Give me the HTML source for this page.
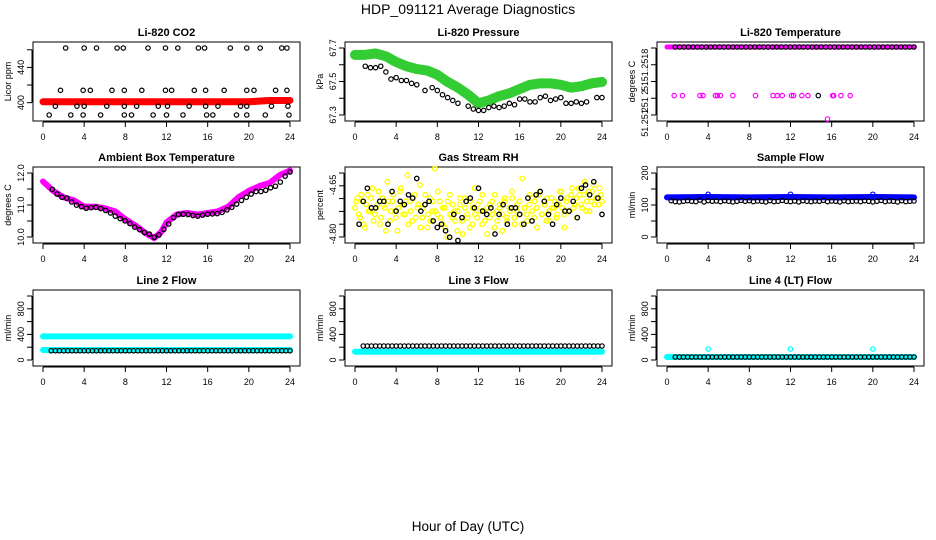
<!DOCTYPE html>
<html><head><meta charset="utf-8">
<style>
html,body{margin:0;padding:0;background:#fff;}
svg{display:block;font-family:"Liberation Sans",sans-serif;}
</style></head>
<body>
<svg id="c" width="936" height="540" viewBox="0 0 936 540">
<text x="468" y="14" text-anchor="middle" font-size="14">HDP_091121  Average Diagnostics</text>
<text x="468" y="531" text-anchor="middle" font-size="13.5">Hour of Day (UTC)</text>
</svg>
<script>
// ---------- data ----------
const xTicks = [0,4,8,12,16,20,24];
// CO2
const co2TopH = [2.2,4.0,5.2,7.2,7.8,10.2,11.9,13.1,15.1,15.7,18.2,19.8,21.1,23.2,23.7];
const co2MidH = [1.7,3.9,4.6,6.7,7.9,9.6,11.9,12.5,14.7,15.8,17.6,19.8,20.5,22.6,23.7];
const co2LowH = [1.2,3.3,4.0,6.2,7.9,9.1,11.2,12.1,14.2,15.8,17.0,19.2,19.8,22.2,23.8];
const co2BotH = [0.6,2.7,3.9,5.6,7.9,8.6,10.7,12.0,13.6,15.9,16.5,18.8,19.8,21.6,23.9];
const co2Levels = [462,414,396,386];
const co2RedH = [0,4,8,12,16,20,22,24];
const co2RedV = [401,401,401,401,401,401,402.5,402.5];
// Pressure
const presGreenH = [0,1,2,3,4,5,6,7,8,9,10,11,12,13,14,15,16,17,18,19,20,21,22,23,24];
const presGreenV = [67.68,67.68,67.69,67.67,67.63,67.60,67.58,67.57,67.54,67.49,67.45,67.40,67.34,67.36,67.39,67.41,67.44,67.47,67.48,67.48,67.47,67.45,67.46,67.48,67.49];
const presBlackH = [1,1.5,2,2.5,3,3.5,4,4.5,5,5.5,6,6.8,7.5,8,8.5,9,9.5,10,11,11.5,12,12.5,13,13.5,14,14.5,15,15.5,16,16.5,17,17.5,18,18.5,19,19.5,20,20.5,21,21.5,22,22.5,23.5,24];
const presBlackV = [67.60,67.59,67.59,67.60,67.56,67.51,67.52,67.50,67.50,67.48,67.47,67.43,67.45,67.43,67.40,67.38,67.36,67.34,67.32,67.30,67.29,67.29,67.31,67.32,67.31,67.32,67.34,67.33,67.37,67.37,67.35,67.35,67.38,67.39,67.36,67.37,67.38,67.34,67.34,67.35,67.34,67.35,67.38,67.38];
// Li-820 temperature (tick index units)
const tempMidH = [0.7,1.5,3.2,3.5,4.7,4.9,5.2,6.4,8.6,10.3,10.7,11.2,12.1,12.3,13.1,13.7,16.1,16.2,16.9,17.8];
const tempMidV = 1.3;
const tempLowH = [15.6];
const tempBlackMidH = [14.7];
// Ambient box temperature
const boxH = [0,1,2,3,4,5,6,7,8,9,10,10.8,11.5,12,13,14,15,16,17,18,19,20,21,22,23,24];
const boxV = [11.7,11.4,11.2,11.1,10.9,10.9,10.85,10.75,10.5,10.3,10.05,9.9,10.1,10.4,10.65,10.7,10.65,10.7,10.75,10.9,11.2,11.4,11.55,11.65,11.9,12.05];
// Gas stream RH
const rhYellowA = [-4.72,-4.69,-4.75,-4.70,-4.78,-4.68,-4.73,-4.66,-4.74,-4.71,-4.77,-4.69,-4.72,-4.64,-4.76,-4.70,-4.73,-4.79,-4.67,-4.71,-4.74,-4.62,-4.70,-4.76,-4.68,-4.72,-4.65,-4.75,-4.71,-4.78,-4.69,-4.73,-4.60,-4.74,-4.70,-4.77,-4.72,-4.81,-4.68,-4.75,-4.73,-4.79,-4.71,-4.76,-4.69,-4.74,-4.78,-4.72,-4.66,-4.75,-4.70,-4.77,-4.73,-4.80,-4.71,-4.74,-4.68,-4.76,-4.72,-4.79,-4.70,-4.75,-4.73,-4.69,-4.77,-4.71,-4.74,-4.63,-4.72,-4.76,-4.68,-4.73,-4.70,-4.78,-4.67,-4.74,-4.71,-4.69,-4.76,-4.72,-4.70,-4.74,-4.67,-4.72,-4.78,-4.69,-4.73,-4.66,-4.71,-4.75,-4.68,-4.72,-4.64,-4.70,-4.73,-4.67,-4.71,-4.69,-4.66,-4.70];
const rhYellowB = [-4.70,-4.74,-4.68,-4.77,-4.71,-4.73,-4.69,-4.76,-4.72,-4.67,-4.75,-4.71,-4.79,-4.70,-4.73,-4.68,-4.75,-4.72,-4.66,-4.74,-4.70,-4.77,-4.73,-4.69,-4.75,-4.71,-4.78,-4.72,-4.68,-4.74,-4.76,-4.70,-4.73,-4.67,-4.75,-4.72,-4.78,-4.70,-4.74,-4.71,-4.76,-4.73,-4.69,-4.80,-4.72,-4.75,-4.70,-4.77,-4.74,-4.71,-4.73,-4.68,-4.76,-4.72,-4.75,-4.70,-4.78,-4.73,-4.71,-4.74,-4.69,-4.76,-4.72,-4.67,-4.75,-4.73,-4.70,-4.77,-4.72,-4.74,-4.71,-4.69,-4.75,-4.72,-4.68,-4.74,-4.70,-4.76,-4.73,-4.69,-4.72,-4.75,-4.71,-4.67,-4.74,-4.70,-4.73,-4.68,-4.72,-4.69,-4.66,-4.71,-4.68,-4.73,-4.67,-4.70,-4.65,-4.69,-4.71,-4.68];
const rhBlack = [-4.77,-4.70,-4.66,-4.72,-4.72,-4.70,-4.70,-4.77,-4.67,-4.73,-4.70,-4.71,-4.68,-4.69,-4.63,-4.73,-4.71,-4.70,-4.76,-4.78,-4.77,-4.79,-4.81,-4.74,-4.82,-4.75,-4.70,-4.69,-4.72,-4.66,-4.73,-4.74,-4.72,-4.80,-4.74,-4.71,-4.77,-4.72,-4.72,-4.74,-4.77,-4.69,-4.76,-4.68,-4.67,-4.70,-4.74,-4.77,-4.71,-4.69,-4.73,-4.73,-4.70,-4.75,-4.66,-4.65,-4.68,-4.64,-4.69,-4.74];
// Flows
const flowLineH = [0,4,8,12,16,20,24];
const sampleBlue = [117,118,117,118,117,118,117];
const sampleBlack = [106,103,102,104,106,104,103,108,102,106,104,105,103,106,104,102,104,107,104,106,103,105,104,102,106,103,104,107,104,103,105,102,106,104,103,105,104,107,103,105,104,102,106,103,104,105,103,106,104,102,104,107,103,105,104,102,106,103,104,105];
const sampleSpikeH = [4,12,20];
const sampleSpikeV = [127,127,127];
const line2CyanHi = [330,330,330,330,330,330,330];
const line2CyanLo = [112,112,112,112,112,112,112];
const line2Black = 100;
const line3Cyan = [85,85,85,85,85,85,85];
const line3Black = 176;
const line4Cyan = [0,0,0,0,0,0,0];
const line4SpikeH = [4,12,20];
const line4SpikeV = [128,128,128];
const line4Black = 0;

// ---------- helpers ----------
const NS = "http://www.w3.org/2000/svg";
const svg = document.getElementById('c');
function mk(tag, attrs, parent){
  const e = document.createElementNS(NS, tag);
  for (const k in attrs) e.setAttribute(k, attrs[k]);
  (parent||svg).appendChild(e);
  return e;
}
const cols = [[33,300],[345,612],[657,924]];
const rows = [[42,121],[167,243],[290,366]];

function makePanel(ci, ri, name, title, ytitle, ymin, ymax, yTicks, yLabels){
  const [L,R] = cols[ci], [T,B] = rows[ri];
  const g = mk('g', {});
  
  
  const xs = h => (L+10) + h*((R-L-20)/24);
  const ys = v => B - 6 - (v - ymin)/(ymax - ymin)*(B - T - 12);
  const box = mk('rect', {x:L, y:T, width:R-L, height:B-T, fill:'none', stroke:'#000', 'stroke-width':1}, g);
  
  
  const t = mk('text', {x:(L+R)/2, y:T-6, 'text-anchor':'middle', 'font-size':11, 'font-weight':'bold'}, g);
  t.textContent = title;
  
  
  const xa = mk('g', {}, g);
  
  
  mk('line', {x1:xs(0), x2:xs(24), y1:B+1, y2:B+1, stroke:'#000'}, xa);
  xTicks.forEach(h => {
    mk('line', {x1:xs(h), x2:xs(h), y1:B+1, y2:B+6, stroke:'#000'}, xa);
    const tl = mk('text', {x:xs(h), y:B+19, 'text-anchor':'middle', 'font-size':9}, xa);
    tl.textContent = h;
  });
  const ya = mk('g', {}, g);
  
  
  mk('line', {x1:L-1, x2:L-1, y1:ys(yTicks[0]), y2:ys(yTicks[yTicks.length-1]), stroke:'#000'}, ya);
  yTicks.forEach(v => mk('line', {x1:L-6, x2:L-1, y1:ys(v), y2:ys(v), stroke:'#000'}, ya));
  yLabels.forEach(([v, s]) => {
    const yl = mk('text', {x:0, y:0, 'text-anchor':'middle', 'font-size':9, transform:`translate(${L-9},${ys(v)}) rotate(-90)`}, ya);
    yl.textContent = s;
  });
  const yt = mk('text', {x:0, y:0, 'text-anchor':'middle', 'font-size':9, transform:`translate(${L-22},${(T+B)/2}) rotate(-90)`}, g);
  yt.textContent = ytitle;
  
  
  return {g, xs, ys};
}
function pts(p, hs, vs, color, sw, r, label){
  const s = mk('g', {fill:'none', stroke:color, 'stroke-width':sw}, p.g);
  
  
  hs.forEach((h,i) => {
    const v = Array.isArray(vs) ? vs[i] : vs;
    mk('circle', {cx:p.xs(h), cy:p.ys(v), r:r||2.2}, s);
  });
}
function band(p, hs, vs, color, w, label){
  const d = hs.map((h,i)=>(i?'L':'M')+p.xs(h)+','+p.ys(vs[i])).join('');
  const pa = mk('path', {d, fill:'none', stroke:color, 'stroke-width':w, 'stroke-linejoin':'round', 'stroke-linecap':'round'}, p.g);
  
  
}
const evenH = (n, a, b) => Array.from({length:n}, (_,i)=> a + i*(b-a)/(n-1));
const blackH60 = evenH(60, 0.4, 24);

// ---------- panels ----------
let p = makePanel(0,0,'co2','Li-820 CO2','Licor ppm',386,462,[400,420,440,460],[[400,'400'],[440,'440']]);
band(p, co2RedH, co2RedV, '#ff0000', 7, 'co2-red-series');
[co2TopH, co2MidH, co2LowH, co2BotH].forEach((hs,i)=>pts(p, hs, co2Levels[i], '#000', 1.2, 2.2, 'co2-black-series'));

p = makePanel(1,0,'pressure','Li-820 Pressure','kPa',67.3,67.7,[67.3,67.4,67.5,67.6,67.7],[[67.3,'67.3'],[67.5,'67.5'],[67.7,'67.7']]);
p.ys = (v => 109 - (v-67.3)*142.5);
band(p, presGreenH, presGreenV, '#33cc33', 10, 'pressure-green-series');
pts(p, presBlackH, presBlackV, '#000', 1.2, 2.2, 'pressure-black-series');

p = makePanel(2,0,'li820-temp','Li-820 Temperature','degrees C',0,4,[0,1,2,3,4],[]);
p.ys = (v => 119 - v*18);
band(p, [0,24], [4,4], '#ff00ff', 5, 'temp-magenta-top');
pts(p, evenH(55,0.8,24), 4, '#000', 1.2, 2.2, 'temp-black-top');
pts(p, tempMidH, tempMidV, '#ff00ff', 1.2, 2.2, 'temp-magenta-mid');
pts(p, tempBlackMidH, tempMidV, '#000', 1.2, 2.2, 'temp-black-mid');
pts(p, tempLowH, 0, '#ff00ff', 1.2, 2.2, 'temp-magenta-low');
[[65,'51.2518'],[86,'51'],[101,'251 2'],[123,'51.251']].forEach(([y,s])=>{
  const tl = mk('text', {x:0,y:0,'text-anchor':'middle','font-size':9,transform:`translate(648,${y}) rotate(-90)`}, p.g);
  tl.textContent = s;
});

p = makePanel(0,1,'box-temp','Ambient Box Temperature','degrees C',10,12,[10,10.5,11,11.5,12],[[10,'10.0'],[11,'11.0'],[12,'12.0']]);
p.ys = (v => 235 - (v-10)*31.5);
band(p, boxH, boxV, '#ff00ff', 6, 'box-temp-magenta-series');
const boxBlackH = evenH(50, 0.9, 24);
const boxBlackV = [11.45,11.3,11.2,11.17,11.05,10.95,10.9,10.85,10.87,10.88,10.84,10.78,10.7,10.6,10.52,10.45,10.36,10.25,10.17,10.08,10.03,9.93,10.0,10.18,10.35,10.55,10.65,10.66,10.65,10.62,10.6,10.63,10.66,10.67,10.68,10.72,10.8,10.88,10.98,11.1,11.2,11.3,11.38,11.38,11.42,11.5,11.55,11.68,11.87,12.0];
pts(p, boxBlackH, boxBlackV, '#000', 1.3, 2.2, 'box-temp-black-series');

p = makePanel(1,1,'gas-rh','Gas Stream RH','percent',-4.85,-4.60,[-4.6,-4.65,-4.7,-4.75,-4.8,-4.85],[]);
p.ys = (v => 185 + (-4.65 - v)/0.15*49);
pts(p, evenH(100,0,24), rhYellowA, '#ffff00', 1.4, 2.3, 'gas-rh-yellow-series');
pts(p, evenH(100,0.12,23.9), rhYellowB, '#ffff00', 1.4, 2.3, 'gas-rh-yellow-series-2');
pts(p, blackH60, rhBlack, '#000', 1.3, 2.2, 'gas-rh-black-series');
[[185,'-4.65'],[234,'-4.80']].forEach(([y,s])=>{
  const tl = mk('text', {x:0,y:0,'text-anchor':'middle','font-size':9,transform:`translate(336,${y}) rotate(-90)`}, p.g);
  tl.textContent = s;
});

p = makePanel(2,1,'sample-flow','Sample Flow','ml/min',0,200,[0,50,100,150,200],[[0,'0'],[100,'100'],[200,'200']]);
p.ys = (v => 233 - v*0.305);
band(p, flowLineH, sampleBlue, '#0000ff', 6, 'sample-flow-blue-series');
pts(p, sampleSpikeH, sampleSpikeV, '#0000ff', 1.2, 2.2, 'sample-flow-blue-spikes');
pts(p, blackH60, sampleBlack, '#000', 1.2, 2.2, 'sample-flow-black-series');

const flowTicks = [0,200,400,600,800,1000], flowLabels = [[0,'0'],[400,'400'],[800,'800']];
p = makePanel(0,2,'line2-flow','Line 2 Flow','ml/min',0,1000,flowTicks,flowLabels);
p.ys = (v => 357 - v*0.0625);
band(p, flowLineH, line2CyanHi, '#00ffff', 6, 'line2-cyan-high');
band(p, flowLineH, line2CyanLo, '#00ffff', 6, 'line2-cyan-low');
pts(p, blackH60.slice(1), line2Black, '#000', 1.2, 2.2, 'line2-black-series');

p = makePanel(1,2,'line3-flow','Line 3 Flow','ml/min',0,1000,flowTicks,flowLabels);
p.ys = (v => 357 - v*0.0625);
band(p, flowLineH, line3Cyan, '#00ffff', 6, 'line3-cyan-series');
pts(p, blackH60.slice(1), line3Black, '#000', 1.2, 2.2, 'line3-black-series');

p = makePanel(2,2,'line4-flow','Line 4 (LT) Flow','ml/min',0,1000,flowTicks,flowLabels);
p.ys = (v => 357 - v*0.0625);
band(p, flowLineH, line4Cyan, '#00ffff', 6, 'line4-cyan-series');
pts(p, line4SpikeH, line4SpikeV, '#00ffff', 1.2, 2.2, 'line4-cyan-spikes');
pts(p, blackH60.slice(1), line4Black, '#000', 1.2, 2.2, 'line4-black-series');
</script>
</body></html>
